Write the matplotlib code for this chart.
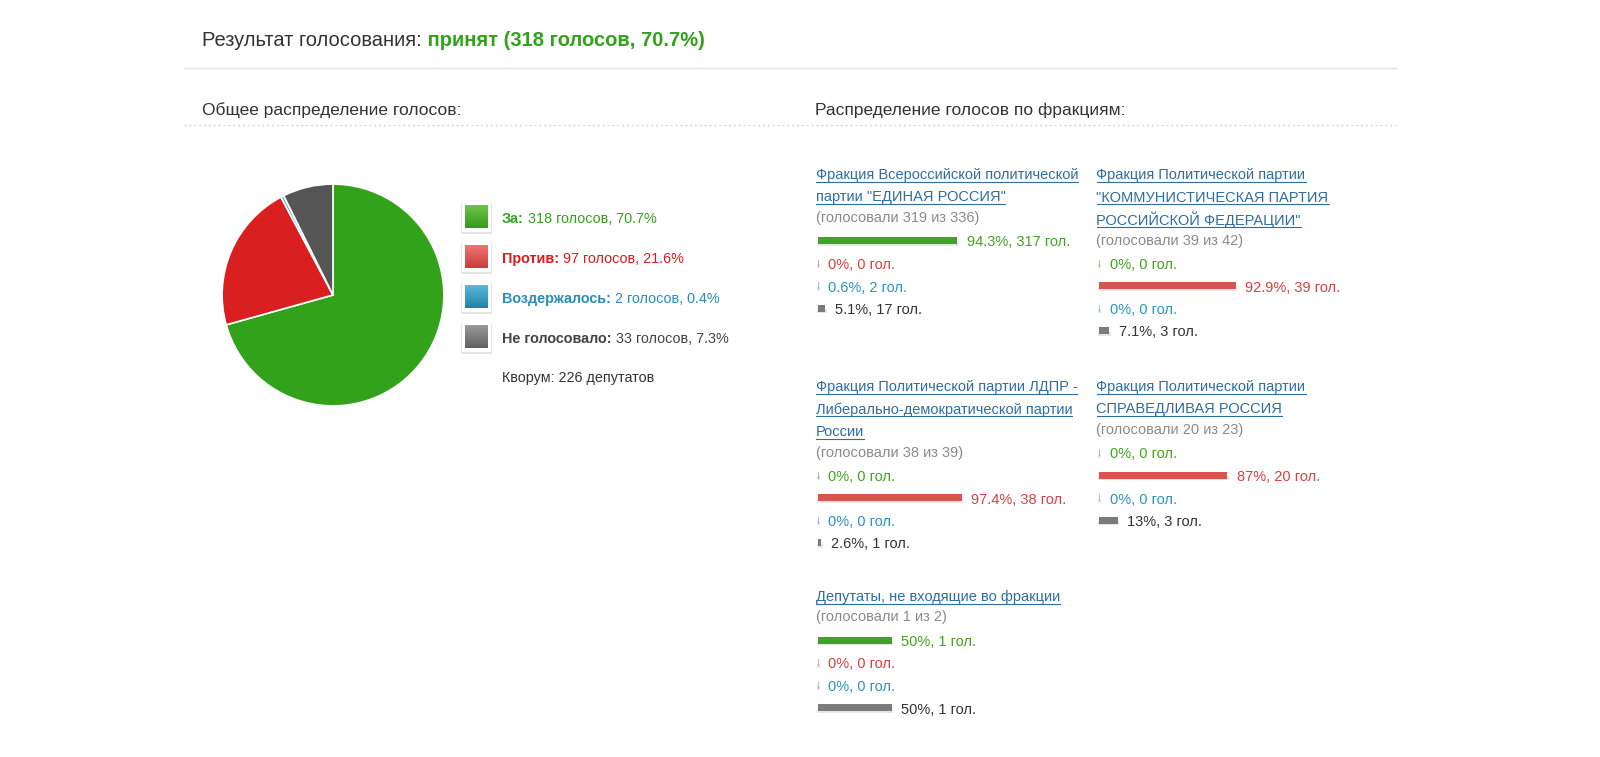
import numpy as np
import matplotlib
matplotlib.use('Agg')
import matplotlib.pyplot as plt
from matplotlib.patches import Rectangle
from matplotlib.colors import LinearSegmentedColormap

plt.rcParams['font.family'] = ['Liberation Sans', 'DejaVu Sans']

# ---- data ----
result_text = 'принят (318 голосов, 70.7%)'

total_labels = ['За:', 'Против:', 'Воздержалось:', 'Не голосовало:']
total_votes = [318, 97, 2, 33]
total_pct = [70.7, 21.6, 0.4, 7.3]
quorum = 226

faction_titles = [
    ['Фракция Всероссийской политической', 'партии "ЕДИНАЯ РОССИЯ"'],
    ['Фракция Политической партии', '"КОММУНИСТИЧЕСКАЯ ПАРТИЯ', 'РОССИЙСКОЙ ФЕДЕРАЦИИ"'],
    ['Фракция Политической партии ЛДПР -', 'Либерально-демократической партии', 'России'],
    ['Фракция Политической партии', 'СПРАВЕДЛИВАЯ РОССИЯ'],
    ['Депутаты, не входящие во фракции'],
]
faction_voted = [319, 39, 38, 20, 1]
faction_members = [336, 42, 39, 23, 2]

# percent / votes: for, against, abstained, did not vote
pct_for = [94.3, 0, 0, 0, 50]
pct_against = [0, 92.9, 97.4, 87, 0]
pct_abstain = [0.6, 0, 0, 0, 0]
pct_absent = [5.1, 7.1, 2.6, 13, 50]
votes_for = [317, 0, 0, 0, 1]
votes_against = [0, 39, 38, 20, 0]
votes_abstain = [2, 0, 0, 0, 0]
votes_absent = [17, 3, 1, 3, 1]

# ---- styles ----
pie_colors = ['#33a21b', '#d91f1f', '#5cb6dc', '#555555']
legend_grad = [('#6dc34b', '#349a1a'), ('#f07575', '#c93c3c'),
               ('#5ab7da', '#1f84a8'), ('#9a9a9a', '#616161')]
legend_text_colors = ['#33a21b', '#dd1b1b', '#2a8db8', '#444444']
row_text_colors = ['#43a41f', '#d9403f', '#2b93c4', '#333333']
bar_colors = ['#3da526', '#d9534f', '#2c9fd0', '#7b7b7b']
link_color = '#2e6da4'

W, H = 1600, 757
DY = 2  # text sits a bit lower than its box centre
fig = plt.figure(figsize=(W / 100, H / 100), dpi=100)
fig.patch.set_facecolor('white')
ax = fig.add_axes([0, 0, 1, 1])
ax.set_xlim(0, W)
ax.set_ylim(H, 0)
ax.axis('off')
renderer = fig.canvas.get_renderer()


def text_right_edge(t):
    bb = t.get_window_extent(renderer=renderer)
    return ax.transData.inverted().transform((bb.x1, bb.y0))[0]


def put(x, y, s, size, color, weight='normal'):
    return ax.text(x, y + DY, s, color=color, fontsize=size, fontweight=weight,
                   ha='left', va='center')


def draw_runs(x, y, runs, size):
    # draw pieces of text one after another on one line
    for s, color, weight in runs:
        t = put(x, y, s, size, color, weight)
        x = text_right_edge(t)
    return x


# ---- header ----
draw_runs(202, 38, [('Результат голосования:', '#333333', 'normal'),
                    (' ' + result_text, '#33a21b', 'bold')], 14.5)
ax.plot([184, 1396], [68, 68], color='#e3e3e3', lw=1.0)
put(202, 108, 'Общее распределение голосов:', 12.5, '#333333')
put(815, 108, 'Распределение голосов по фракциям:', 12.5, '#333333')
ax.plot([184, 1396], [125, 125], color='#d6d6d6', lw=1.0, ls=(0, (1.5, 2)))

# ---- pie ----
cx, cy, r = 333, 295, 112
pax = fig.add_axes([(cx - r) / W, (H - cy - r) / H, 2 * r / W, 2 * r / H])
pax.pie(total_votes, colors=pie_colors, startangle=90, counterclock=False,
        wedgeprops=dict(edgecolor='white', linewidth=1.2))
pax.set_xlim(-1.01, 1.01)
pax.set_ylim(-1.01, 1.01)
pax.set_aspect('equal')

# ---- pie legend ----
sq = 23
for i, lab in enumerate(total_labels):
    yc = 217 + 40 * i
    x0, y0 = 465, yc - sq / 2
    ax.add_patch(Rectangle((x0 - 4, y0 - 3), sq + 8, sq + 8, color='#e6e6e6', lw=0))
    ax.add_patch(Rectangle((x0 - 3, y0 - 3), sq + 6, sq + 6, color='white', lw=0))
    cmap = LinearSegmentedColormap.from_list('g%d' % i, legend_grad[i])
    ax.imshow(np.linspace(0, 1, 32).reshape(-1, 1), cmap=cmap, aspect='auto',
              extent=[x0, x0 + sq, y0 + sq, y0], zorder=3)
    rest = ' %d голосов, %g%%' % (total_votes[i], total_pct[i])
    draw_runs(502, yc, [(lab, legend_text_colors[i], 'bold'),
                        (rest, legend_text_colors[i], 'normal')], 10.4)
put(502, 376, 'Кворум: %d депутатов' % quorum, 10.4, '#333333')

# ---- factions ----
block_pos = [(815.5, 173), (1096.5, 173), (815.5, 385), (1096.5, 385), (815.5, 595)]
px_per_pct = 1.48
line_h = 22.5

for k, titles in enumerate(faction_titles):
    bx, by = block_pos[k]
    y = by
    for line in titles:
        t = put(bx, y, line, 10.5, link_color)
        x1 = text_right_edge(t)
        ax.plot([bx, x1], [y + DY + 6.5, y + DY + 6.5], color=link_color, lw=0.8)
        y += line_h
    y = y - line_h + 20.5
    put(bx, y, '(голосовали %d из %d)' % (faction_voted[k], faction_members[k]),
        10.5, '#8a8a8a')
    y += 24.5
    pcts = [pct_for[k], pct_against[k], pct_abstain[k], pct_absent[k]]
    votes = [votes_for[k], votes_against[k], votes_abstain[k], votes_absent[k]]
    for j in range(4):
        w = pcts[j] * px_per_pct
        tiny = w < 2
        w = max(w, 1.5)
        left = bx + 2
        ax.barh(y + 3, w + (1 if tiny else 2), left=left - 0.5, height=4,
                color='#e6e6e6', lw=0)
        ax.barh(y, w, left=left, height=7, color=bar_colors[j], lw=0,
                alpha=0.5 if tiny else 1.0)
        put(left + w + 9.5, y, '%g%%, %d гол.' % (pcts[j], votes[j]),
            10.5, row_text_colors[j])
        y += line_h

ax.set_xlim(0, W)
ax.set_ylim(H, 0)
fig.savefig('out.png', dpi=100, facecolor='white')
